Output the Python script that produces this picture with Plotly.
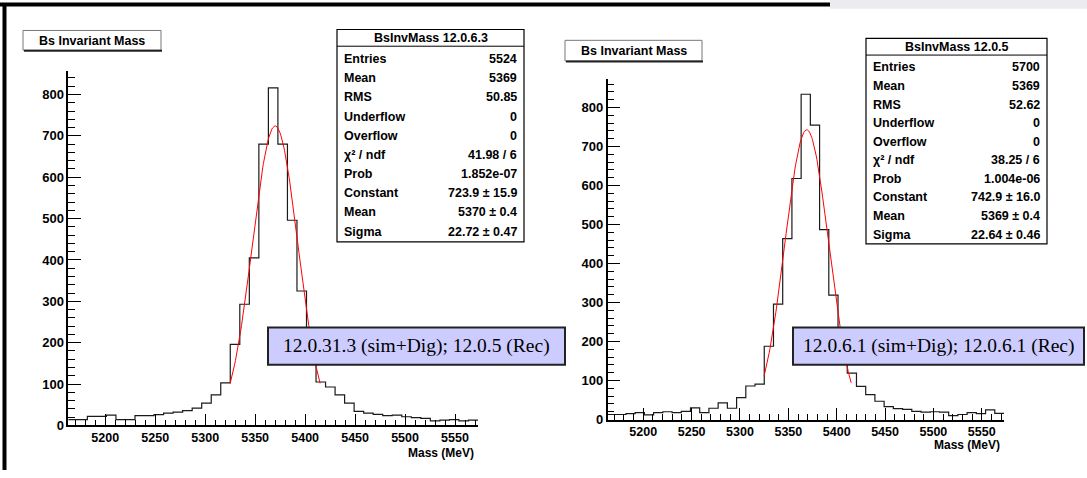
import math
import plotly.graph_objects as go

# ---------------- data ----------------
x_min, x_max, n_bins = 5163.0, 5573.0, 43

counts_left = [14, 14, 22, 22, 25, 14, 14, 24, 24, 26, 30, 32, 36, 42, 54, 74, 103, 196, 293, 405,
               680, 816, 680, 496, 325, 200, 105, 93, 74, 54, 34, 30, 27, 24, 25, 21, 19, 17, 11, 13,
               14, 11, 13]
counts_right = [13, 13, 15, 18, 12, 18, 20, 18, 21, 30, 18, 29, 43, 29, 56, 86, 91, 188, 296, 464,
                618, 834, 755, 487, 319, 205, 119, 85, 64, 47, 33, 28, 26, 21, 19, 20, 19, 10, 13, 18,
                15, 25, 16]

fit_left = dict(const=723.9, mean=5370.0, sigma=22.72)
fit_right = dict(const=742.9, mean=5369.0, sigma=22.64)
fit_range = (5325.0, 5415.0)

stats_labels = ["Entries", "Mean", "RMS", "Underflow", "Overflow", "\u03c7\u00b2 / ndf", "Prob",
                "Constant", "Mean", "Sigma"]
stats_left = ["5524", "5369", "50.85", "0", "0", "41.98 / 6", "1.852e-07",
              "723.9 \u00b1 15.9", "5370 \u00b1 0.4", "22.72 \u00b1 0.47"]
stats_right = ["5700", "5369", "52.62", "0", "0", "38.25 / 6", "1.004e-06",
               "742.9 \u00b1 16.0", "5369 \u00b1 0.4", "22.64 \u00b1 0.46"]
stats_title_left = "BsInvMass 12.0.6.3"
stats_title_right = "BsInvMass 12.0.5"
plot_title = "Bs Invariant Mass"
note_left = "12.0.31.3 (sim+Dig); 12.0.5 (Rec)"
note_right = "12.0.6.1 (sim+Dig); 12.0.6.1 (Rec)"
x_title = "Mass (MeV)"

# ---------------- helpers ----------------
W, H = 1087, 478
def px(x):
    return x / W
def py(y):
    return 1 - y / H

bw = (x_max - x_min) / n_bins
edges = [x_min + i * bw for i in range(n_bins + 1)]

def step_xy(counts):
    return edges[:], list(counts) + [counts[-1]]

def gauss_curve(p):
    n = 120
    xs = [fit_range[0] + (fit_range[1] - fit_range[0]) * i / (n - 1) for i in range(n)]
    ys = [p["const"] * math.exp(-0.5 * ((x - p["mean"]) / p["sigma"]) ** 2) for x in xs]
    return xs, ys

SANS = "Liberation Sans, Arial, Helvetica, sans-serif"
SERIF = "Liberation Serif, Times New Roman, serif"
FS = 13

fig = go.Figure()
for counts, fitp, xa, ya in [(counts_left, fit_left, "x", "y"), (counts_right, fit_right, "x2", "y2")]:
    sx, sy = step_xy(counts)
    fig.add_trace(go.Scatter(x=sx, y=sy, mode="lines", line=dict(shape="hv", color="#1a1a1a", width=1.2),
                             xaxis=xa, yaxis=ya, showlegend=False, hoverinfo="skip"))
    gx, gy = gauss_curve(fitp)
    fig.add_trace(go.Scatter(x=gx, y=gy, mode="lines", line=dict(color="#ff0000", width=1),
                             xaxis=xa, yaxis=ya, showlegend=False, hoverinfo="skip"))

def xax(domain, anchor):
    return dict(domain=domain, range=[x_min, x_max], showgrid=False, zeroline=False, anchor=anchor,
                showline=True, linecolor="#000", linewidth=1.5, ticks="inside", ticklen=12,
                tickwidth=1, tickcolor="#000", tick0=5200, dtick=50,
                minor=dict(dtick=10, ticklen=6, ticks="inside", tickcolor="#000", showgrid=False),
                tickfont=dict(family=SANS, size=12.5, color="#000", weight="bold"))

def yax(domain, top, anchor):
    return dict(domain=domain, range=[0, top], showgrid=False, zeroline=False, anchor=anchor,
                showline=True, linecolor="#000", linewidth=1.5, ticks="inside", ticklen=13,
                tickwidth=1, tickcolor="#000", dtick=100,
                minor=dict(dtick=20, ticklen=7, ticks="inside", tickcolor="#000", showgrid=False),
                tickfont=dict(family=SANS, size=FS, color="#000", weight="bold"))

L = dict(x0=68.3, x1=478.0, y0=71.7, y1=432.7, top=858)
R = dict(x0=607.5, x1=1004.0, y0=80.0, y1=426.7, top=874)

fig.update_layout(
    width=W, height=H, margin=dict(l=0, r=0, t=0, b=0),
    paper_bgcolor="white", plot_bgcolor="rgba(0,0,0,0)",
    xaxis=xax([px(L["x0"]), px(L["x1"])], "y"),
    yaxis=yax([py(L["y1"]), py(L["y0"])], L["top"], "x"),
    xaxis2=xax([px(R["x0"]), px(R["x1"])], "y2"),
    yaxis2=yax([py(R["y1"]), py(R["y0"])], R["top"], "x2"),
)

shapes = []
annotations = []

def rect(x0, y0, x1, y1, line="#000", width=1, fill="white"):
    shapes.append(dict(type="rect", xref="paper", yref="paper", x0=px(x0), x1=px(x1), y0=py(y1), y1=py(y0),
                       line=dict(color=line, width=width), fillcolor=fill, layer="above"))

def hline(x0, x1, y, color="#000", width=1):
    shapes.append(dict(type="line", xref="paper", yref="paper", x0=px(x0), x1=px(x1), y0=py(y), y1=py(y),
                       line=dict(color=color, width=width), layer="above"))

def vline(x, y0, y1, color="#000", width=1):
    shapes.append(dict(type="line", xref="paper", yref="paper", x0=px(x), x1=px(x), y0=py(y0), y1=py(y1),
                       line=dict(color=color, width=width), layer="above"))

def text(x, y, s, anchor="left", size=FS, family=SANS, bold=True, color="#000"):
    annotations.append(dict(xref="paper", yref="paper", x=px(x), y=py(y), text=s, showarrow=False,
                            xanchor=anchor, yanchor="middle", borderpad=0,
                            font=dict(family=family, size=size, color=color, weight="bold" if bold else "normal")))

# slide frame
shapes.append(dict(type="rect", xref="paper", yref="paper", x0=px(830), x1=1, y0=py(9), y1=1,
                   line=dict(width=0), fillcolor="#ececf0", layer="below"))
hline(0, 830, 4.5, width=4)
vline(4.5, 3, 478, width=4)

# title boxes
for (x0, y0, x1, y1) in [(23, 31, 161, 51), (565, 41, 702, 62)]:
    rect(x0, y0, x1, y1, line="#777", width=1)
    hline(x0 + 1, x1 + 1, y1 + 0.5, color="#222", width=2)
    text((x0 + x1) / 2, (y0 + y1) / 2 + 0.5, plot_title, anchor="center", size=12.5)

# stats boxes
def stats_box(x0, x1, y0, y1, head_bottom, title, values, row0, dy):
    rect(x0, y0, x1, y1, line="#000", width=1.2)
    hline(x0, x1, head_bottom, width=1)
    text((x0 + x1) / 2, (y0 + head_bottom) / 2 + 0.5, title, anchor="center", size=12.5)
    for i, (lab, val) in enumerate(zip(stats_labels, values)):
        yy = row0 + i * dy
        text(x0 + 6, yy, lab, anchor="left", size=12.5)
        text(x1 - 6, yy, val, anchor="right", size=12.5)

stats_box(337, 524, 30, 246, 47, stats_title_left, stats_left, 60, 19.5)
stats_box(866, 1047, 39, 248, 56, stats_title_right, stats_right, 68.5, 18.9)

# version notes
for (x0, x1, s) in [(268, 565, note_left), (793, 1084, note_right)]:
    rect(x0, 333, x1, 371, line="#222", width=2, fill="#ccccff")
    text((x0 + x1) / 2, 352, s, anchor="center", size=19.5, family=SERIF, bold=False)

# axis titles
text(L["x1"] - 3, 461, x_title, anchor="right", size=12)
text(R["x1"] - 3, 453, x_title, anchor="right", size=12)

fig.update_layout(shapes=shapes, annotations=annotations)
fig.write_html(
    "out.html",
    config={"displayModeBar": False},
    post_script="document.body.style.margin='0px';document.body.style.padding='0px';"
                "document.documentElement.style.overflow='hidden';",
)
